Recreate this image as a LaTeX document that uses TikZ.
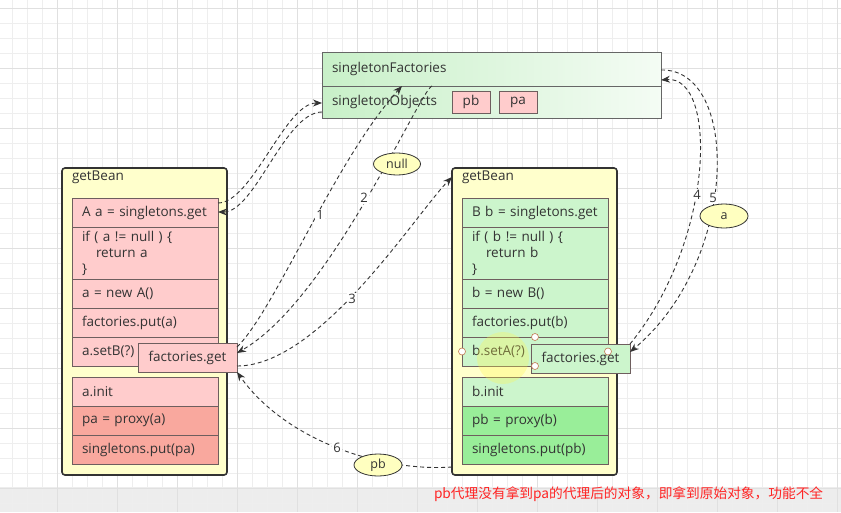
\documentclass[tikz,border=0pt]{standalone}
\usepackage{fontspec}
\setmainfont{Open Sans}
\newfontfamily\cjk{Noto Sans CJK SC}
\usetikzlibrary{arrows.meta,shapes.geometric}
\definecolor{txt}{HTML}{333333}
\definecolor{pinkA}{HTML}{FFCCCC}
\definecolor{pinkB}{HTML}{F9A89E}
\definecolor{greenA}{HTML}{CCF5CC}
\definecolor{greenB}{HTML}{99EE99}
\definecolor{yel}{HTML}{FFFFCC}
\definecolor{ellfill}{HTML}{FFFFC0}
\definecolor{gridc}{HTML}{EEEEEE}
\definecolor{gridC}{HTML}{E0E0E0}
\definecolor{edge}{HTML}{333333}
\definecolor{rowedge}{HTML}{6E5E5E}
\definecolor{redtxt}{HTML}{FF2424}
\definecolor{topL}{HTML}{C8F0C8}
\definecolor{topR}{HTML}{F4FCF4}
\definecolor{handle}{HTML}{C07850}
\begin{document}
\begin{tikzpicture}[x=1pt,y=-1pt,
  every node/.style={outer sep=0pt, text=txt},
  gridfine/.style={draw=gridc, line width=0.6pt},
  gridcoarse/.style={draw=gridC, line width=0.8pt},
  outerbox/.style={draw=edge, line width=1.6pt, fill=yel, rounded corners=3pt, anchor=north west, inner sep=0pt},
  rowbox/.style={draw=rowedge, line width=0.8pt, anchor=north west, minimum width=146pt, minimum height=29pt, text width=126pt, inner xsep=10pt, inner ysep=0pt, align=left, font=\fontsize{13.5}{16}\selectfont},
  pinkrow/.style={rowbox, fill=pinkA},
  pinkrowB/.style={rowbox, fill=pinkB},
  greenrow/.style={rowbox, fill=greenA},
  greenrowB/.style={rowbox, fill=greenB},
  fgbox/.style={draw=rowedge, line width=0.8pt, anchor=north west, minimum width=99pt, minimum height=29pt, inner sep=0pt, font=\fontsize{13.5}{16}\selectfont},
  topbox/.style={draw=gray!80!black, line width=0.8pt, anchor=north west, minimum width=339pt, inner xsep=10pt, inner ysep=0pt, text width=319pt, align=left, left color=topL, right color=topR, font=\fontsize{13.5}{16}\selectfont},
  smallbox/.style={draw=rowedge, line width=0.8pt, fill=pinkA, anchor=north west, minimum width=38pt, minimum height=22pt, inner sep=0pt, font=\fontsize{13.5}{16}\selectfont},
  ellnode/.style={ellipse, draw=edge, line width=0.8pt, fill=ellfill, inner sep=0pt, font=\fontsize{12.5}{14}\selectfont},
  conn/.style={draw=edge, line width=0.9pt, dash pattern=on 4pt off 3pt, -{Stealth[length=9pt,width=7pt]}},
  lbl/.style={fill=white, inner sep=1pt, font=\fontsize{13}{14}\selectfont},
  titlenode/.style={anchor=west, inner sep=0pt, font=\fontsize{13.5}{16}\selectfont}
]
\useasboundingbox (0,0) rectangle (841,512);
\fill[white] (0,0) rectangle (841,512);
\fill[black!7] (0,487) rectangle (841,512);
% grid
\foreach \i in {0,...,55} \draw[gridfine] (12+15*\i,0) -- (12+15*\i,512);
\foreach \j in {0,...,33} \draw[gridfine] (0,8+15*\j) -- (841,8+15*\j);
\foreach \i in {0,...,13} \draw[gridcoarse] (57+60*\i,0) -- (57+60*\i,512);
\foreach \j in {0,...,8} \draw[gridcoarse] (0,8+60*\j) -- (841,8+60*\j);

% top container
\node[topbox, minimum height=34pt] (sF) at (322,52) {singletonFactories};
\node[topbox, minimum height=32pt] (sO) at (322,86) {singletonObjects};
\node[smallbox] (pb) at (452,91) {pb};
\node[smallbox] (pa) at (499,91) {pa};

% left getBean
\node[outerbox, minimum width=165pt, minimum height=307pt] (gbL) at (62,168) {};
\node[titlenode] (gbLt) at (72,177) {getBean};
\node[pinkrow] (a1) at (72,198) {A a = singletons.get};
\node[pinkrow, minimum height=52pt] (a2) at (72,227) {if ( a != null ) \{\\\hspace*{14pt}return a\\\}};
\node[pinkrow] (a3) at (72,279) {a = new A()};
\node[pinkrow] (a4) at (72,308) {factories.put(a)};
\node[pinkrow] (a5) at (72,337) {a.setB(?)};
\node[pinkrow] (a6) at (72,377) {a.init};
\node[pinkrowB] (a7) at (72,406) {pa = proxy(a)};
\node[pinkrowB] (a8) at (72,435) {singletons.put(pa)};
\node[fgbox, fill=pinkA] (lfg) at (138,343) {factories.get};

% right getBean
\node[outerbox, minimum width=165pt, minimum height=307pt] (gbR) at (452,168) {};
\node[titlenode] (gbRt) at (462,177) {getBean};
\node[greenrow] (b1) at (462,198) {B b = singletons.get};
\node[greenrow, minimum height=52pt] (b2) at (462,227) {if ( b != null ) \{\\\hspace*{14pt}return b\\\}};
\node[greenrow] (b3) at (462,279) {b = new B()};
\node[greenrow] (b4) at (462,308) {factories.put(b)};
\node[greenrow] (b5) at (462,337) {b.setA(?)};
\node[greenrow] (b6) at (462,377) {b.init};
\node[greenrowB] (b7) at (462,406) {pb = proxy(b)};
\node[greenrowB] (b8) at (462,435) {singletons.put(pb)};
\fill[yellow!70, opacity=0.3] (503,358) circle (26);
\node[fgbox, fill=greenA] (rfg) at (531,344) {factories.get};

% selection handles
\foreach \p in {(535,337),(462,351.5),(608,351.5),(535,366)}
  \draw[handle, fill=white, line width=0.6pt] \p circle (3.5);

% connectors
\draw[conn] (a1.east |- 0,203) .. controls (252,203) and (285,103) .. (sO.west |- 0,103);
\draw[conn] (sO.west |- 0,112) .. controls (285,112) and (255,212) .. (a1.east |- 0,212);
\draw[conn] (lfg.east |- 0,347) .. controls (275,310) and (335,160) .. (sF.south -| 402,0);
\draw[conn] (sF.south -| 432,0) .. controls (420,90) and (330,300) .. (lfg.east |- 0,353);
\draw[conn] (lfg.east |- 0,366) .. controls (320,366) and (415,215) .. (gbR.west |- 0,177);
\draw[conn] (rfg.north east) .. controls (715,240) and (718,75) .. (sF.east |- 0,80);
\draw[conn] (sF.east |- 0,70) .. controls (740,68) and (740,260) .. (rfg.east |- 0,352);
\draw[conn] (gbR.west |- 0,467) .. controls (380,472) and (285,440) .. (lfg.south east);

% labels
\node[lbl] (l1) at (320,215) {1};
\node[lbl] (l2) at (364,198) {2};
\node[lbl] (l3) at (352,299) {3};
\node[lbl] (l4) at (697,195) {4};
\node[lbl] (l5) at (713,198) {5};
\node[lbl] (l6) at (337,448) {6};
\node[ellnode, minimum width=47pt, minimum height=22pt] (nullE) at (397,164) {null};
\node[ellnode, minimum width=48pt, minimum height=24pt] (aE) at (724,216) {a};
\node[ellnode, minimum width=48pt, minimum height=22pt] (pbE) at (378,465) {pb};

% note
\node[anchor=west, inner sep=0pt, text=redtxt, font=\cjk\fontsize{13.7}{16}\selectfont] (note) at (434,494) {pb代理没有拿到pa的代理后的对象，即拿到原始对象，功能不全};
\end{tikzpicture}
\end{document}
